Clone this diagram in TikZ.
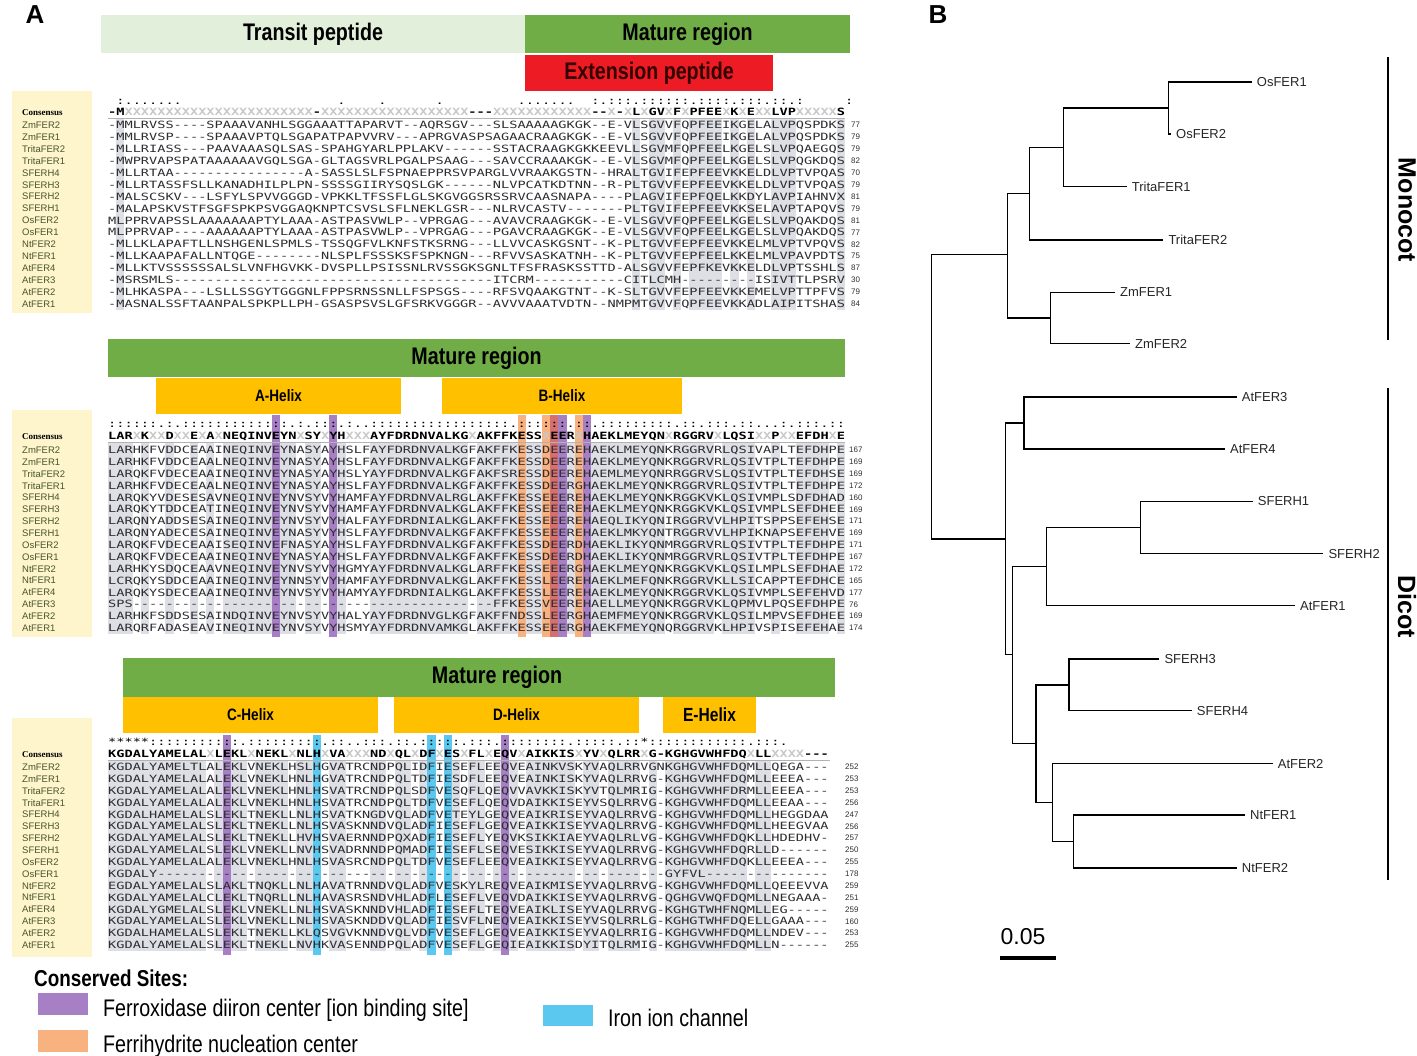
\documentclass[tikz,border=0pt]{standalone}
\usepackage{fontspec}
\setmainfont{Liberation Sans}
\newfontfamily\alnfont[FakeStretch=1.36,Ligatures=TeXOff]{DejaVu Sans Mono}
\newfontfamily\narrowfont[FakeStretch=0.82]{Liberation Sans}
\newfontfamily\serfont{Liberation Serif}
\usetikzlibrary{positioning,calc}

\definecolor{panelyellow}{RGB}{254,245,204}
\definecolor{lightgreen}{RGB}{226,239,218}
\definecolor{matgreen}{RGB}{112,173,71}
\definecolor{extred}{RGB}{237,28,36}
\definecolor{helixyellow}{RGB}{255,192,0}
\definecolor{ferrox}{RGB}{167,127,196}
\definecolor{ferrih}{RGB}{247,178,128}
\definecolor{overlapred}{RGB}{214,112,108}
\definecolor{ironch}{RGB}{91,200,240}
\definecolor{shadecol}{RGB}{221,223,229}
\definecolor{seqink}{RGB}{45,45,50}
\definecolor{nameink}{RGB}{72,84,44}
\definecolor{xgrey}{RGB}{200,200,200}

% column pitch of the alignment
\def\pw{8.19}
% consensus / marks: X in grey, o blank
\def\consloop#1{\ifx\relax#1\else\conschar#1\expandafter\consloop\fi}
\def\conschar#1{\ifx X#1{\color{xgrey}X}\else\ifx o#1\phantom{:}\else#1\fi\fi}
\newcommand\cons[1]{\consloop#1\relax}
% run of gaps
\newcount\gpcnt
\newcommand\gp[1]{\gpcnt=#1\relax\gploop}
\def\gploop{\ifnum\gpcnt>0 -\advance\gpcnt by -1\relax\expandafter\gploop\fi}

\tikzset{>=latex}

\begin{document}
\begin{tikzpicture}[x=1pt, y=-1pt,
    seqname/.style={anchor=west, inner sep=0pt, text height=6.8pt, text depth=0pt, font=\fontsize{9.5}{9.5}\selectfont, text=nameink},
    conslab/.style={anchor=west, inner sep=0pt, text height=6.5pt, text depth=0pt, font=\serfont\bfseries\fontsize{9}{9}\selectfont},
    seqrow/.style={anchor=west, inner sep=0pt, text height=7.2pt, text depth=0pt, font=\alnfont\fontsize{10}{10}\selectfont, text=seqink},
    consrow/.style={seqrow, font=\alnfont\bfseries\fontsize{10}{10}\selectfont, text=black},
    markrow/.style={seqrow, text=black},
    seqnum/.style={anchor=west, inner sep=0pt, font=\fontsize{8}{8}\selectfont, text=seqink},
    regbox/.style={inner sep=0pt, font=\narrowfont\bfseries\fontsize{24}{24}\selectfont},
    helixbox/.style={fill=helixyellow, inner sep=0pt, minimum height=36pt, font=\narrowfont\bfseries\fontsize{16.5}{16.5}\selectfont},
    sepline/.style={gray!60, line width=0.8pt},
    branch/.style={line width=1.1pt},
    leaf/.style={inner sep=0pt, font=\fontsize{13}{13}\selectfont, text=black!85},
    cladebar/.style={line width=2.6pt},
    cladetxt/.style={rotate=-90, inner sep=0pt, font=\bfseries\fontsize{25}{25}\selectfont},
    legbox/.style={minimum width=50pt, minimum height=22pt, inner sep=0pt},
    legtxt/.style={anchor=base west, inner sep=0pt, font=\narrowfont\fontsize{24}{24}\selectfont},
    panel/.style={inner sep=0pt, font=\bfseries\fontsize{26}{26}\selectfont}]

    \useasboundingbox (0,0) rectangle (1417,1056);

    \node[panel] (pA) at (35,15) {A};
    \node[panel] (pB) at (938,15) {B};

    % region bars on top
    \node[regbox, fill=lightgreen, minimum width=424pt, minimum height=38pt] (transit) at (313,34) {Transit peptide};
    \node[regbox, fill=matgreen, minimum width=325pt, minimum height=38pt] (mature1) at (687.5,34) {Mature region};
    \node[regbox, fill=extred, text=black!80!red, minimum width=248pt, minimum height=36pt] (extens) at (649,73) {Extension peptide};

    % ---------------- block 1 ----------------
    \fill[panelyellow] (12,91) rectangle (92,313);
    \foreach \a/\b in {2/2,65/65,67/68,70/70,72/75,77/77,79/79,82/84,90/90}
        \fill[shadecol] ({108+(\a-1)*\pw},119) rectangle ({108+\b*\pw},310);

    \node[markrow] (ka) at (108,101) {\cons{o:.......ooooooooooooooooooo.oooo.oooooo.ooooooooo.......oo:.:::.::::::.::::.:::.::.:ooooo:}};
    \node[conslab] (cla) at (22,112) {Consensus};
    \node[consrow] (ca) at (108,112) {\cons{-MXXXXXXXXXXXXXXXXXXXXXXX-XXXXXXXXXXXXXXXXXX---XXXXXXXXXXXX--X-XLXGVXFXPFEEXKXEXXLVPXXXXXS}};
    \draw[sepline] (108,118.5) -- (845,118.5);

    \foreach \nm/\sq/\nb [count=\i] in {
        ZmFER2/-MMLRVSS----SPAAAVANHLSGGAAATTAPARVT--AQRSGV---SLSAAAAAGKGK--E-VLSGVVFQPFEEIKGELALVPQSPDKS/77,
        ZmFER1/-MMLRVSP----SPAAAVPTQLSGAPATPAPVVRV---APRGVASPSAGAACRAAGKGK--E-VLSGVVFQPFEEIKGELALVPQSPDKS/79,
        TritaFER2/-MLLRIASS---PAAVAAASQLSAS-SPAHGYARLPPLAKV------SSTACRAAGKGKKEEVLLSGVMFQPFEELKGELSLVPQAEGQS/79,
        TritaFER1/-MWPRVAPSPATAAAAAAVGQLSGA-GLTAGSVRLPGALPSAAG---SAVCCRAAAKGK--E-VLSGVMFQPFEELKGELSLVPQGKDQS/82,
        SFERH4/-MLLRTAA\gp{16}A-SASSLSLFSPNAEPPRSVPARGLVVRAAKGSTN--HRALTGVIFEPFEEVKKELDLVPTVPQAS/70,
        SFERH3/-MLLRTASSFSLLKANADHILPLPN-SSSSGIIRYSQSLGK------NLVPCATKDTNN--R-PLTGVVFEPFEEVKKELDLVPTVPQAS/79,
        SFERH2/-MALSCSKV---LSFYLSPVVGGGD-VPKKLTFSSFLGLSKGVGGSRSSRVCAASNAPA----PLAGVIFEPFQELKKDYLAVPIAHNVX/81,
        SFERH1/-MALAPSKVSTFSGFSPKPSVGGAQKNPTCSVSLSFLNEKLGSR---NLRVCASTV\gp{7}PLTGVIFEPFEEVKKSELAVPTAPQVS/79,
        OsFER2/MLPPRVAPSSLAAAAAAAPTYLAAA-ASTPASVWLP--VPRGAG---AVAVCRAAGKGK--E-VLSGVVFQPFEELKGELSLVPQAKDQS/81,
        OsFER1/MLPPRVAP----AAAAAAPTYLAAA-ASTPASVWLP--VPRGAG---PGAVCRAAGKGK--E-VLSGVVFQPFEELKGELSLVPQAKDQS/77,
        NtFER2/-MLLKLAPAFTLLNSHGENLSPMLS-TSSQGFVLKNFSTKSRNG---LLVVCASKGSNT--K-PLTGVVFEPFEEVKKELMLVPTVPQVS/82,
        NtFER1/-MLLKAAPAFALLNTQGE\gp{8}NLSPLFSSSKSFSPKNGN---RFVVSASKATNH--K-PLTGVVFEPFEELKKELMLVPAVPDTS/75,
        AtFER4/-MLLKTVSSSSSSALSLVNFHGVKK-DVSPLLPSISSNLRVSSGKSGNLTFSFRASKSSTTD-ALSGVVFEPFKEVKKELDLVPTSSHLS/87,
        AtFER3/-MSRSMLS\gp{39}ITCRM\gp{11}CITLCMH\gp{9}ISIVTTLPSRV/30,
        AtFER2/-MLHKASPA---LSLLSSGYTGGGNLFPPSRNSSNLLFSPSGS----RFSVQAAKGTNT--K-SLTGVVFEPFEEVKKEMELVPTTPFVS/79,
        AtFER1/-MASNALSSFTAANPALSPKPLLPH-GSASPSVSLGFSRKVGGGR--AVVVAAATVDTN--NMPMTGVVFQPFEEVKKADLAIPITSHAS/84}
    {
        \node[seqname] (na\i) at (22,{125+(\i-1)*11.93}) {\nm};
        \node[seqrow] (sa\i) at (108,{125+(\i-1)*11.93}) {\sq};
        \node[seqnum] (ma\i) at (851,{125+(\i-1)*11.93}) {\nb};
    }

    % ---------------- block 2 ----------------
    \node[regbox, fill=matgreen, minimum width=737pt, minimum height=38pt] (mature2) at (476.5,358) {Mature region};
    \node[helixbox, minimum width=245pt] (hA) at (278.5,396) {A-Helix};
    \node[helixbox, minimum width=240pt] (hB) at (562,396) {B-Helix};

    \fill[panelyellow] (12,410) rectangle (92,637);
    \foreach \a/\b in {1/3,5/5,8/8,11/11,13/13,15/23,25/26,28/29,33/44,46/53,55/57,59/68,70/74,76/79,82/82,85/88,90/90}
        \fill[shadecol] ({108+(\a-1)*\pw},443) rectangle ({108+\b*\pw},634);
    \foreach \c in {21,28,56,59}
        \fill[ferrox] ({108+(\c-1)*\pw},415) rectangle ({108+\c*\pw},637);
    \foreach \c in {51,54,58}
        \fill[ferrih] ({108+(\c-1)*\pw},415) rectangle ({108+\c*\pw},637);
    \fill[overlapred] ({108+54*\pw},415) rectangle ({108+55*\pw},637);

    \node[markrow] (kb) at (108,424) {\cons{::::::.:.:::::::::::::.:.:::.:..:::::::::::::::::.::::::.::.:::::::::.::.:::.::...:.:::.::}};
    \node[conslab] (clb) at (22,436) {Consensus};
    \node[consrow] (cb) at (108,436) {\cons{LARXKXXDXXEXAXNEQINVEYNXSYXYHXXXAYFDRDNVALKGXAKFFKESSXEERXHAEKLMEYQNXRGGRVXLQSIXXPXXEFDHXE}};
    \draw[sepline] (108,442) -- (845,442);

    \foreach \nm/\sq/\nb [count=\i] in {
        ZmFER2/LARHKFVDDCEAAINEQINVEYNASYAYHSLFAYFDRDNVALKGFAKFFKESSDEEREHAEKLMEYQNKRGGRVRLQSIVAPLTEFDHPE/167,
        ZmFER1/LARHKFVDDCEAALNEQINVEYNASYAYHSLFAYFDRDNVALKGFAKFFKESSDEEREHAEKLMEYQNKRGGRVRLQSIVTPLTEFDHPE/169,
        TritaFER2/LARQKFVDECEAAINEQINVEYNASYAYHSLYAYFDRDNVALKGFAKFSRESSDEEREHAEMLMEYQNRRGGRVSLQSIVTPLTEFDHSE/169,
        TritaFER1/LARHKFVDECEAALNEQINVEYNASYAYHSLFAYFDRDNVALKGFAKFFKESSDEERGHAEKLMEYQNKRGGRVRLQSIVTPLTEFDHPE/172,
        SFERH4/LARQKYVDESESAVNEQINVEYNVSYVYHAMFAYFDRDNVALRGLAKFFKESSEEEREHAEKLMEYQNKRGGKVKLQSIVMPLSDFDHAD/160,
        SFERH3/LARQKYTDDCEATINEQINVEYNVSYVYHAMFAYFDRDNVALKGLAKFFKESSEEEREHAEKLMEYQNKRGGKVKLQSIVMPLSEFDHEE/169,
        SFERH2/LARQNYADDSESAINEQINVEYNVSYVYHALFAYFDRDNIALKGLAKFFKESSEEEREHAEQLIKYQNIRGGRVVLHPITSPPSEFEHSE/171,
        SFERH1/LARQNYADECESAINEQINVEYNASYVYHSLFAYFDRDNVALKGFAKFFKESSEEEREHAEKLMKYQNTRGGRVVLHPIKNAPSEFEHVE/169,
        OsFER2/LARQKFVDECEAAISEQINVEFNASYAYHSLFAYFDRDNVALKGFAKFFKESSDEERDHAEKLIKYQNMRGGRVRLQSIVTPLTEFDHPE/171,
        OsFER1/LARQKFVDECEAAINEQINVEYNASYAYHSLFAYFDRDNVALKGFAKFFKESSDEERDHAEKLIKYQNMRGGRVRLQSIVTPLTEFDHPE/167,
        NtFER2/LARHKYSDQCEAAVNEQINVEYNVSYVYHGMYAYFDRDNVALKGLARFFKESSEEERGHAEKLMEYQNKRGGKVKLQSILMPLSEFDHAE/172,
        NtFER1/LCRQKYSDDCEAAINEQINVEYNNSYVYHAMFAYFDRDNVALKGLAKFFKESSLEEREHAEKLMEFQNKRGGRVKLLSICAPPTEFDHCE/165,
        AtFER4/LARQKYSDECEAAINEQINVEYNVSYVYHAMYAYFDRDNIALKGLAKFFKESSLEEREHAEKLMEYQNKRGGRVKLQSIVMPLSEFEHVD/177,
        AtFER3/SPS\gp{44}FFKESSVEEREHAELLMEYQNKRGGRVKLQPMVLPQSEFDHPE/76,
        AtFER2/LARHKFSDDSESAINDQINVEYNVSYVYHALYAYFDRDNVGLKGFAKFFNDSSLEERGHAEMFMEYQNKRGGRVKLQSILMPVSEFDHEE/169,
        AtFER1/LARQRFADASEAVINEQINVEYNVSYVYHSMYAYFDRDNVAMKGLAKFFKESSEEERGHAEKFMEYQNQRGGRVKLHPIVSPISEFEHAE/174}
    {
        \node[seqname] (nb\i) at (22,{450+(\i-1)*11.87}) {\nm};
        \node[seqrow] (sb\i) at (108,{450+(\i-1)*11.87}) {\sq};
        \node[seqnum] (mb\i) at (849,{450+(\i-1)*11.87}) {\nb};
    }

    % ---------------- block 3 ----------------
    \node[fill=matgreen, minimum width=712pt, minimum height=39pt, inner sep=0pt] (mature3) at (479,677.5) {};
    \node[regbox] (mature3t) at (497,677.5) {Mature region};
    \node[helixbox, minimum width=255pt] (hC) at (250.5,715) {C-Helix};
    \node[helixbox, minimum width=245pt] (hD) at (516.5,715) {D-Helix};
    \node[helixbox, minimum width=93pt, font=\narrowfont\bfseries\fontsize{19}{19}\selectfont] (hE) at (709.5,715) {E-Helix};

    \fill[panelyellow] (12,718) rectangle (92,957);
    \foreach \a/\b in {1/12,14/17,19/22,24/26,28/29,33/34,36/37,39/40,42/43,45/46,48/50,52/57,59/60,62/65,67/67,69/78,80/81}
        \fill[shadecol] ({108+(\a-1)*\pw},761) rectangle ({108+\b*\pw},951);
    \foreach \c in {15,49}
        \fill[ferrox] ({108+(\c-1)*\pw},735) rectangle ({108+\c*\pw},955);
    \foreach \c in {26,40,42}
        \fill[ironch] ({108+(\c-1)*\pw},735) rectangle ({108+\c*\pw},955);

    \node[markrow] (kc) at (108,742) {\cons{*****:::::::::::.:::::::::.::..:::.::.:::::.:::.::::::::.:::::.::*::::::::::::.:::.ooooo}};
    \node[conslab] (clc) at (22,754) {Consensus};
    \node[consrow] (cc) at (108,754) {\cons{KGDALYAMELALXLEKLXNEKLXNLHXVAXXXNDXQLXDFXESXFLXEQVXAIKKISXYVXQLRRXG-KGHGVWHFDQXLLXXXX---}};
    \draw[sepline] (108,760) -- (830,760);

    \foreach \nm/\sq/\nb [count=\i] in {
        ZmFER2/KGDALYAMELTLALEKLVNEKLHSLHGVATRCNDPQLIDFIESEFLEEQVEAINKVSKYVAQLRRVGNKGHGVWHFDQMLLQEGA---/252,
        ZmFER1/KGDALYAMELALALEKLVNEKLHNLHGVATRCNDPQLTDFIESDFLEEQVEAINKISKYVAQLRRVG-KGHGVWHFDQMLLEEEA---/253,
        TritaFER2/KGDALYAMELALALEKLVNEKLHNLHSVATRCNDPQLSDFVESQFLQEQVVAVKKISKYVTQLMRIG-KGHGVWHFDRMLLEEEA---/253,
        TritaFER1/KGDALYAMELALALEKLVNEKLHNLHSVATRCNDPQLTDFVESEFLQEQVDAIKKISEYVSQLRRVG-KGHGVWHFDQMLLEEAA---/256,
        SFERH4/KGDALHAMELALSLEKLTNEKLLNLHSVATKNGDVQLADFVETEYLGEQVEAIKRISEYVAQLRRVG-KGHGVWHFDQMLLHEGGDAA/247,
        SFERH3/KGDALYAMELALSLEKLTNEKLLNLHSVASKNNDVQLADFIESEFLGEQVEAIKKISEYVAQLRRVG-KGHGVWHFDQMLLHEEGVAA/256,
        SFERH2/KGDALYAMELALSLEKLTNEKLLHVHSVAERNNDPQXADFIESEFLYEQVKSIKKIAEYVAQLRLVG-KGHGVWHFDQKLLHDEDHV-/257,
        SFERH1/KGDALYAMELALSLEKLVNEKLLNVHSVADRNNDPQMADFIESEFLSEQVESIKKISEYVAQLRRVG-KGHGVWHFDQRLLD------/250,
        OsFER2/KGDALYAMELALALEKLVNEKLHNLHSVASRCNDPQLTDFVESEFLEEQVEAIKKISEYVAQLRRVG-KGHGVWHFDQKLLEEEA---/255,
        OsFER1/KGDALY\gp{62}GYFVL\gp{15}/178,
        NtFER2/EGDALYAMELALSLAKLTNQKLLNLHAVATRNNDVQLADFVESKYLREQVEAIKMISEYVAQLRRVG-KGHGVWHFDQMLLQEEEVVA/259,
        NtFER1/KGDALYAMELALCLEKLTNQRLLNLHAVASRSNDVHLADFLESEFLVEQVDAIKKISEYVAQLRRVG-QGHGVWQFDQMLLNEGAAA-/251,
        AtFER4/KGDALYGMELALSLEKLVNEKLLNLHSVASKNNDVHLADFIESEFLTEQVEAIKLISEYVAQLRRVG-KGHGTWHFNQMLLEG-----/259,
        AtFER3/KGDALYAMELALSLEKLVNEKLLNLHSVASKNDDVQLADFIESVFLNEQVEAIKKISEYVSQLRRLG-KGHGTWHFDQELLGAAA---/160,
        AtFER2/KGDALHAMELALSLEKLTNEKLLKLQSVGVKNNDVQLVDFVESEFLGEQVEAIKKISEYVAQLRRIG-KGHGVWHFDQMLLNDEV---/253,
        AtFER1/KGDALYAMELALSLEKLTNEKLLNVHKVASENNDPQLADFVESEFLGEQIEAIKKISDYITQLRMIG-KGHGVWHFDQMLLN------/255}
    {
        \node[seqname] (nc\i) at (22,{767+(\i-1)*11.87}) {\nm};
        \node[seqrow] (sc\i) at (108,{767+(\i-1)*11.87}) {\sq};
        \node[seqnum] (mc\i) at (845,{767+(\i-1)*11.87}) {\nb};
    }

    % legend
    \node[legtxt, font=\narrowfont\bfseries\fontsize{23}{23}\selectfont] (consites) at (34,986) {Conserved Sites:};
    \node[legbox, fill=ferrox] (lgP) at (63,1004) {};
    \node[legtxt] (lgPt) at (103,1016.5) {Ferroxidase diiron center [ion binding site]};
    \node[legbox, fill=ferrih] (lgO) at (63,1041) {};
    \node[legtxt] (lgOt) at (103,1052.5) {Ferrihydrite nucleation center};
    \node[legbox, fill=ironch, minimum height=21pt] (lgB) at (568,1015.5) {};
    \node[legtxt] (lgBt) at (608,1026.5) {Iron ion channel};

    % ---------------- tree (B) ----------------
    \coordinate (rt)    at (931.7,397);
    \coordinate (mono)  at (1007.3,254.8);
    \coordinate (nB)    at (1029.3,193.5);
    \coordinate (nA)    at (1063.3,147.3);
    \coordinate (nOs)   at (1168.3,108);
    \coordinate (nZm)   at (1050.7,318);
    \coordinate (dic)   at (1005.3,539);
    \coordinate (nAt34) at (1024,423);
    \coordinate (nL)    at (1012.7,654.5);
    \coordinate (nS)    at (1046.7,566.6);
    \coordinate (nS12)  at (1140.7,527.7);
    \coordinate (nN)    at (1036,743.8);
    \coordinate (nS34)  at (1069,685);
    \coordinate (nAN)   at (1052.7,802.8);
    \coordinate (nNt)   at (1073.3,841.5);

    \coordinate (tOs1) at (1251.7,82);
    \coordinate (tOs2) at (1171,134);
    \coordinate (tTr1) at (1126.7,186.6);
    \coordinate (tTr2) at (1163.3,240);
    \coordinate (tZm1) at (1115,292.3);
    \coordinate (tZm2) at (1130,343.5);
    \coordinate (tAt3) at (1236.7,397);
    \coordinate (tAt4) at (1225,449);
    \coordinate (tSf1) at (1252.7,501.5);
    \coordinate (tSf2) at (1323.3,553.8);
    \coordinate (tAt1) at (1295,605.6);
    \coordinate (tSf3) at (1159.3,659);
    \coordinate (tSf4) at (1191.7,710.7);
    \coordinate (tAt2) at (1272.7,763.6);
    \coordinate (tNt1) at (1245,815);
    \coordinate (tNt2) at (1236.7,868);

    \foreach \p/\c in {rt/mono, rt/dic, mono/nB, mono/nZm, nB/nA, nB/tTr2, nA/nOs, nA/tTr1,
                       nOs/tOs1, nOs/tOs2, nZm/tZm1, nZm/tZm2, dic/nAt34, dic/nL, nAt34/tAt3, nAt34/tAt4,
                       nL/nS, nL/nN, nS/nS12, nS/tAt1, nS12/tSf1, nS12/tSf2, nN/nS34, nN/nAN,
                       nS34/tSf3, nS34/tSf4, nAN/tAt2, nAN/nNt, nNt/tNt1, nNt/tNt2}
        \draw[branch] (\p) |- (\c);

    \foreach \t/\lab in {tOs1/OsFER1, tOs2/OsFER2, tTr1/TritaFER1, tTr2/TritaFER2, tZm1/ZmFER1, tZm2/ZmFER2,
                         tAt3/AtFER3, tAt4/AtFER4, tSf1/SFERH1, tSf2/SFERH2, tAt1/AtFER1, tSf3/SFERH3,
                         tSf4/SFERH4, tAt2/AtFER2, tNt1/NtFER1, tNt2/NtFER2}
        \node[leaf, right=5pt of \t] (l\t) {\lab};

    % clades
    \coordinate (mTop) at (1388,57);
    \coordinate (mBot) at (1388,340);
    \coordinate (dTop) at (1388,388);
    \coordinate (dBot) at (1388,880);
    \draw[cladebar] (mTop) -- (mBot);
    \draw[cladebar] (dTop) -- (dBot);
    \node[cladetxt] (monocot) at (1407,210) {Monocot};
    \node[cladetxt] (dicot) at (1407,607) {Dicot};

    % scale bar
    \coordinate (sb1) at (1000,958);
    \coordinate (sb2) at (1056,958);
    \draw[line width=4pt] (sb1) -- (sb2);
    \node[inner sep=0pt, font=\fontsize{23}{23}\selectfont] (sbl) at (1023,937) {0.05};

\end{tikzpicture}
\end{document}
